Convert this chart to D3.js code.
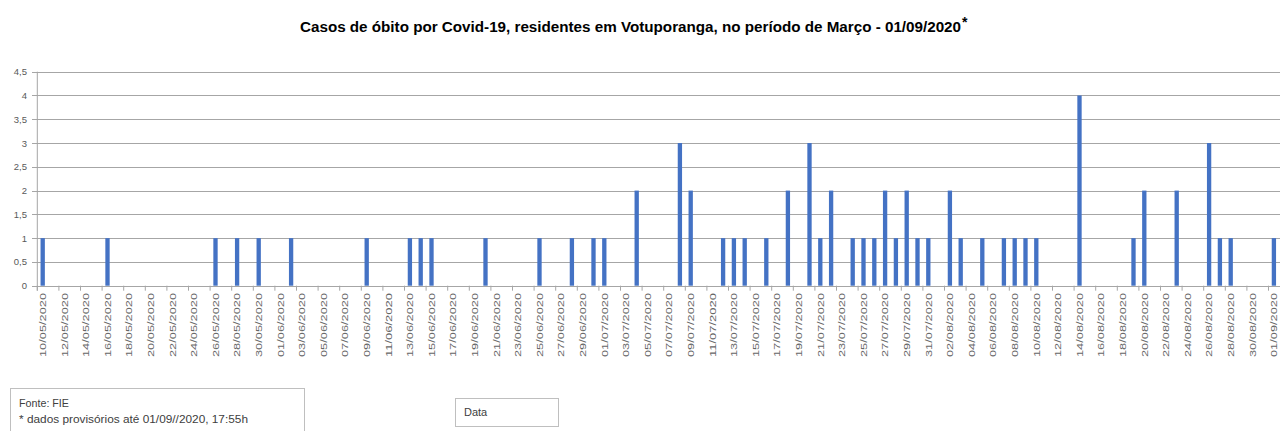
<!DOCTYPE html>
<html><head><meta charset="utf-8">
<script src="https://cdn.jsdelivr.net/npm/d3@7"></script>
<style>
html,body{margin:0;padding:0;background:#fff;overflow:hidden;}
svg{display:block;}
</style></head>
<body>
<svg id="chart" width="1280" height="431"></svg>
<script>
const titleText = "Casos de óbito por Covid-19, residentes em Votuporanga, no período de Março - 01/09/2020";
const dates = [
"10/05/2020","11/05/2020","12/05/2020","13/05/2020","14/05/2020","15/05/2020","16/05/2020","17/05/2020","18/05/2020","19/05/2020",
"20/05/2020","21/05/2020","22/05/2020","23/05/2020","24/05/2020","25/05/2020","26/05/2020","27/05/2020","28/05/2020","29/05/2020",
"30/05/2020","31/05/2020","01/06/2020","02/06/2020","03/06/2020","04/06/2020","05/06/2020","06/06/2020","07/06/2020","08/06/2020",
"09/06/2020","10/06/2020","11/06/2020","12/06/2020","13/06/2020","14/06/2020","15/06/2020","16/06/2020","17/06/2020","18/06/2020",
"19/06/2020","20/06/2020","21/06/2020","22/06/2020","23/06/2020","24/06/2020","25/06/2020","26/06/2020","27/06/2020","28/06/2020",
"29/06/2020","30/06/2020","01/07/2020","02/07/2020","03/07/2020","04/07/2020","05/07/2020","06/07/2020","07/07/2020","08/07/2020",
"09/07/2020","10/07/2020","11/07/2020","12/07/2020","13/07/2020","14/07/2020","15/07/2020","16/07/2020","17/07/2020","18/07/2020",
"19/07/2020","20/07/2020","21/07/2020","22/07/2020","23/07/2020","24/07/2020","25/07/2020","26/07/2020","27/07/2020","28/07/2020",
"29/07/2020","30/07/2020","31/07/2020","01/08/2020","02/08/2020","03/08/2020","04/08/2020","05/08/2020","06/08/2020","07/08/2020",
"08/08/2020","09/08/2020","10/08/2020","11/08/2020","12/08/2020","13/08/2020","14/08/2020","15/08/2020","16/08/2020","17/08/2020",
"18/08/2020","19/08/2020","20/08/2020","21/08/2020","22/08/2020","23/08/2020","24/08/2020","25/08/2020","26/08/2020","27/08/2020",
"28/08/2020","29/08/2020","30/08/2020","31/08/2020","01/09/2020"
];
const obitos = [
1,0,0,0,0,0,1,0,0,0,
0,0,0,0,0,0,1,0,1,0,
1,0,0,1,0,0,0,0,0,0,
1,0,0,0,1,1,1,0,0,0,
0,1,0,0,0,0,1,0,0,1,
0,1,1,0,0,2,0,0,0,3,
2,0,0,1,1,1,0,1,0,2,
0,3,1,2,0,1,1,1,2,1,
2,1,1,0,2,1,0,1,0,1,
1,1,1,0,0,0,4,0,0,0,
0,1,2,0,0,2,0,0,3,1,
1,0,0,0,1
];
const yTicks = [0,0.5,1,1.5,2,2.5,3,3.5,4,4.5];
const noteLines = ["Fonte: FIE", "* dados provisórios até  01/09//2020, 17:55h"];
const legendLabel = "Data";

const svg = d3.select("#chart");
const left = 37.3, bw = 10.8;
const x = d3.scaleBand().domain(dates).range([left, left + bw*dates.length]).paddingInner(0).paddingOuter(0);
const y = d3.scaleLinear().domain([0,4.5]).range([285.7, 71.7]);
const font = "'Liberation Sans', Arial, sans-serif";
const narrow = "'Liberation Sans Narrow', 'Liberation Sans', Arial, sans-serif";
const grid = "#a6a6a6";

// title
svg.append("text").attr("x", 300).attr("y", 32)
  .attr("font-family", narrow).attr("font-weight", "bold").attr("font-size", 14)
  .attr("fill", "#000").text(titleText)
  .attr("textLength", 661).attr("lengthAdjust", "spacingAndGlyphs");
svg.append("text").attr("x", 962).attr("y", 27).attr("font-family", font)
  .attr("font-weight","bold").attr("font-size", 14).attr("fill","#000").text("*");

// gridlines
svg.append("g").selectAll("line").data(yTicks).join("line")
  .attr("x1", 32).attr("x2", 1280)
  .attr("y1", d => Math.round(y(d))+0.5).attr("y2", d => Math.round(y(d))+0.5)
  .attr("stroke", grid).attr("stroke-width", 1.2);

// y axis line
svg.append("line").attr("x1", left).attr("x2", left).attr("y1", y(4.5)).attr("y2", y(0)+5)
  .attr("stroke", grid).attr("stroke-width", 1);

// y labels
svg.append("g").selectAll("text").data(yTicks).join("text")
  .attr("x", 27).attr("y", d => y(d)+3.5).attr("text-anchor","end")
  .attr("font-family", font).attr("font-size", 9.5).attr("fill","#595959")
  .text(d => d3.format(".1~f")(d).replace(".", ","));

// bars
const bwid = x.bandwidth()*0.4;
svg.append("g").selectAll("rect").data(dates.map((d,i)=>({d, v: obitos[i]})).filter(o=>o.v>0)).join("rect")
  .attr("x", o => x(o.d) + x.bandwidth()/2 - bwid/2)
  .attr("width", bwid)
  .attr("y", o => y(o.v))
  .attr("height", o => y(0) - y(o.v))
  .attr("fill", "#4472c4");

// x ticks every 2 bands
const tickIdx = d3.range(0, dates.length+1, 2);
svg.append("g").selectAll("line").data(tickIdx).join("line")
  .attr("x1", i => left + i*bw).attr("x2", i => left + i*bw)
  .attr("y1", y(0)).attr("y2", y(0)+5).attr("stroke", grid);

// x labels
const labelDates = dates.filter((d,i)=> i%2===0);
svg.append("g").selectAll("text").data(labelDates).join("text")
  .attr("transform", d => `translate(${x(d)+x.bandwidth()/2+3.3},293) rotate(-90)`)
  .attr("text-anchor","end").attr("font-family", font).attr("font-size", 9.5)
  .attr("fill","#666").text(d => d)
  .attr("textLength", 64).attr("lengthAdjust","spacingAndGlyphs");

// note box
svg.append("rect").attr("x", 10.5).attr("y", 388.5).attr("width", 294).attr("height", 60)
  .attr("fill","none").attr("stroke","#bfbfbf");
svg.append("text").attr("x", 19).attr("y", 407)
  .attr("font-family", narrow).attr("font-size", 10.5).attr("fill","#404040").text(noteLines[0])
  .attr("textLength", 50).attr("lengthAdjust","spacingAndGlyphs");
svg.append("text").attr("x", 19).attr("y", 422.5)
  .attr("font-family", narrow).attr("font-size", 10.5).attr("fill","#404040").text(noteLines[1])
  .attr("textLength", 229).attr("lengthAdjust","spacingAndGlyphs");

// legend box
svg.append("rect").attr("x", 455.5).attr("y", 398.5).attr("width", 103).attr("height", 28)
  .attr("fill","none").attr("stroke","#bfbfbf");
svg.append("text").attr("x", 464).attr("y", 416).attr("font-family", narrow)
  .attr("font-size", 11).attr("fill","#404040").text(legendLabel);
</script>
</body></html>
